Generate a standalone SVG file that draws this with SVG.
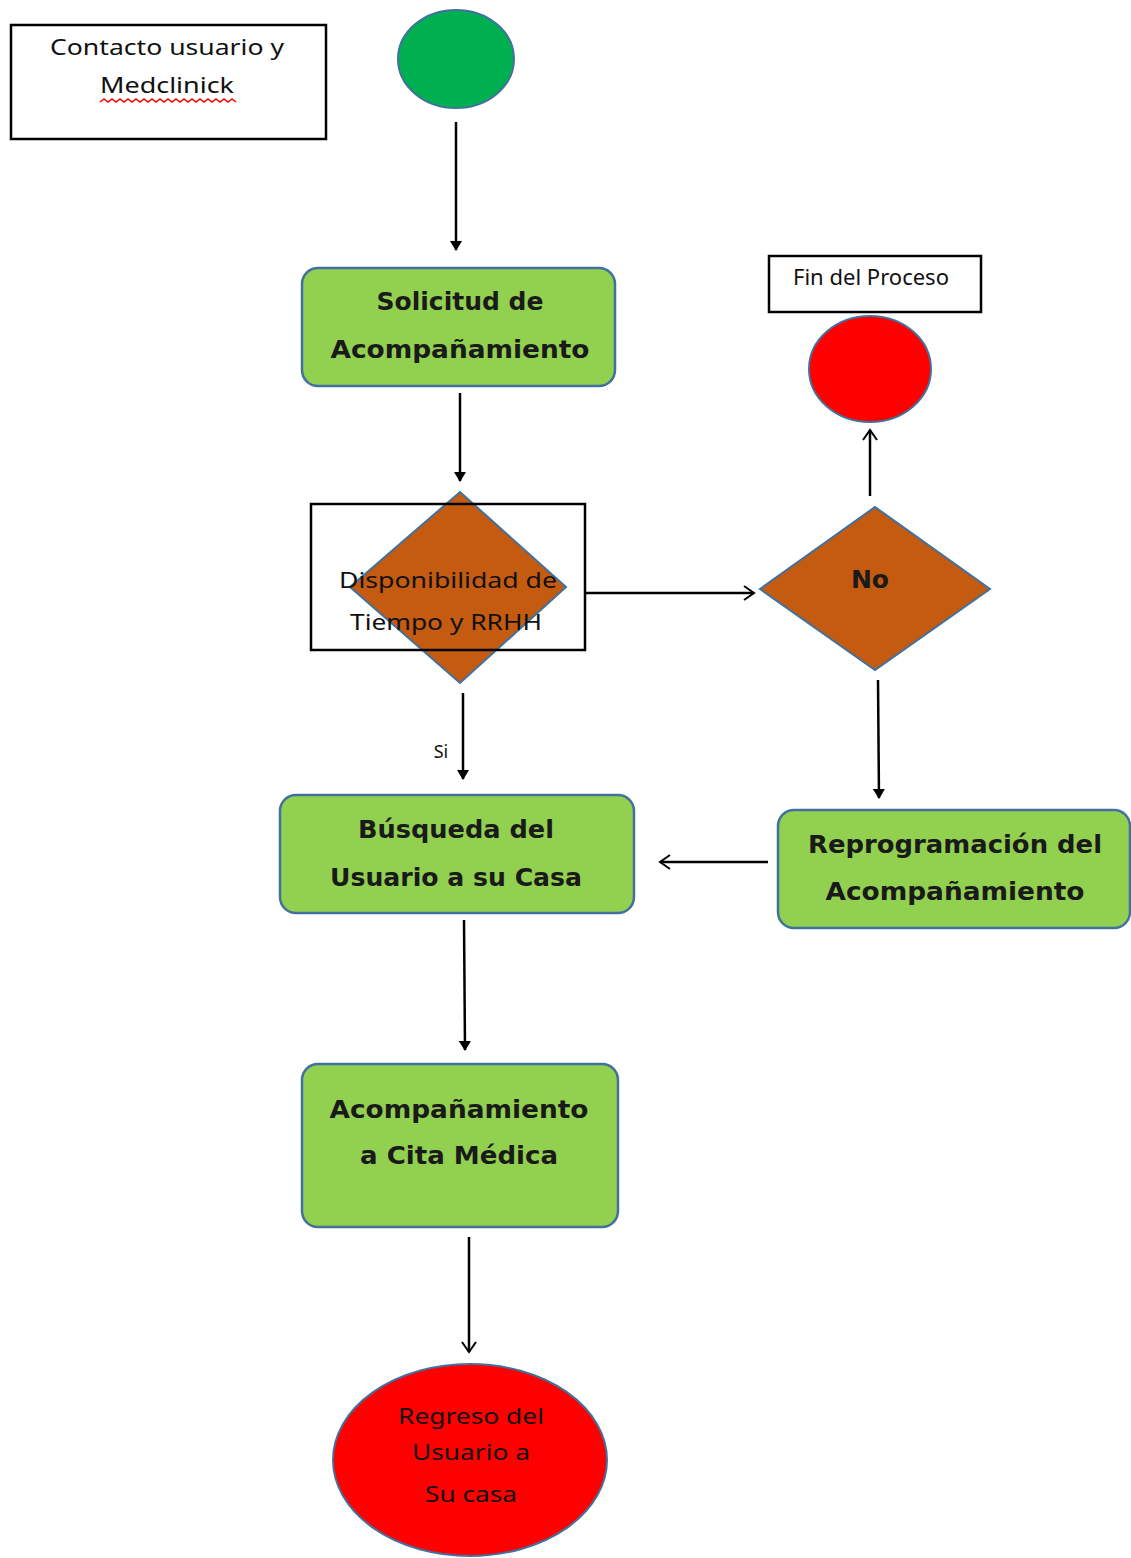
<svg xmlns="http://www.w3.org/2000/svg" width="1131" height="1558" viewBox="0 0 1131 1558">
<style>
  .box { fill: #92D050; stroke: #41719C; stroke-width: 2.5; }
  .dia { fill: #C55A11; stroke: #41719C; stroke-width: 2; }
  .lbl { fill: none; stroke: #000; stroke-width: 2.5; }
  .bt { font-family: "DejaVu Sans", sans-serif; font-weight: bold; font-size: 25px; fill: #1a1a1a; text-anchor: middle; }
  .nt { font-family: "Noto Sans", "DejaVu Sans", sans-serif; font-size: 21px; fill: #111; text-anchor: middle; }
  .con line { stroke: #000; stroke-width: 2.5; }
</style>
<defs>
  <marker id="fill" markerWidth="12" markerHeight="12" refX="9" refY="6" orient="auto" markerUnits="userSpaceOnUse">
    <path d="M0,0 L10,6 L0,12 Z" fill="#000"/>
  </marker>
  <marker id="open" markerWidth="14" markerHeight="16" refX="12" refY="8" orient="auto" markerUnits="userSpaceOnUse">
    <path d="M2,1 L12,8 L2,15" fill="none" stroke="#000" stroke-width="2"/>
  </marker>
</defs>
<rect width="1131" height="1558" fill="#fff"/>

<g id="contacto">
  <rect class="lbl" x="11" y="25" width="315" height="114"/>
  <text class="nt" x="167" y="55" textLength="234" lengthAdjust="spacingAndGlyphs">Contacto usuario y</text>
  <text class="nt" x="167" y="93" textLength="134" lengthAdjust="spacingAndGlyphs">Medclinick</text>
  <path d="M100,102 l4,-3 l4,3 l4,-3 l4,3 l4,-3 l4,3 l4,-3 l4,3 l4,-3 l4,3 l4,-3 l4,3 l4,-3 l4,3 l4,-3 l4,3 l4,-3 l4,3 l4,-3 l4,3 l4,-3 l4,3 l4,-3 l4,3 l4,-3 l4,3 l4,-3 l4,3 l4,-3 l4,3 l4,-3 l4,3 l4,-3 l4,3" fill="none" stroke="#f00" stroke-width="1.5"/>
</g>

<g id="inicio">
  <ellipse cx="456" cy="59" rx="58" ry="49" fill="#00B050" stroke="#41719C" stroke-width="2"/>
</g>

<g id="solicitud">
  <rect class="box" x="302" y="268" width="313" height="118" rx="16"/>
  <text class="bt" x="460" y="310">Solicitud de</text>
  <text class="bt" x="460" y="358" textLength="259" lengthAdjust="spacingAndGlyphs">Acompañamiento</text>
</g>

<g id="disponibilidad">
  <polygon class="dia" points="460,492 566,587 460,683 350,587"/>
  <rect class="lbl" x="311" y="504" width="274" height="146"/>
  <text class="nt" x="448" y="588" textLength="218" lengthAdjust="spacingAndGlyphs">Disponibilidad de</text>
  <text class="nt" x="446" y="630" textLength="192" lengthAdjust="spacingAndGlyphs">Tiempo y RRHH</text>
</g>

<g id="no">
  <polygon class="dia" points="875,507 990,589 875,670 760,589"/>
  <text class="bt" x="870" y="588">No</text>
</g>

<g id="finlabel">
  <rect class="lbl" x="769" y="256" width="212" height="56"/>
  <text class="nt" x="871" y="285" font-size="17" textLength="156" lengthAdjust="spacingAndGlyphs">Fin del Proceso</text>
</g>

<g id="fin">
  <ellipse cx="870" cy="369" rx="61" ry="53" fill="#FF0000" stroke="#41719C" stroke-width="2"/>
</g>

<g id="reprogramacion">
  <rect class="box" x="778" y="810" width="352" height="118" rx="16"/>
  <text class="bt" x="955" y="853" textLength="294" lengthAdjust="spacingAndGlyphs">Reprogramación del</text>
  <text class="bt" x="955" y="900" textLength="259" lengthAdjust="spacingAndGlyphs">Acompañamiento</text>
</g>

<g id="busqueda">
  <rect class="box" x="280" y="795" width="354" height="118" rx="16"/>
  <text class="bt" x="456" y="838" textLength="196" lengthAdjust="spacingAndGlyphs">Búsqueda del</text>
  <text class="bt" x="456" y="886" textLength="252" lengthAdjust="spacingAndGlyphs">Usuario a su Casa</text>
</g>

<g id="acompanamiento">
  <rect class="box" x="302" y="1064" width="316" height="163" rx="16"/>
  <text class="bt" x="459" y="1118" textLength="259" lengthAdjust="spacingAndGlyphs">Acompañamiento</text>
  <text class="bt" x="459" y="1164" textLength="198" lengthAdjust="spacingAndGlyphs">a Cita Médica</text>
</g>

<g id="regreso">
  <ellipse cx="470" cy="1460" rx="137" ry="96" fill="#FF0000" stroke="#41719C" stroke-width="2"/>
  <text class="nt" x="471" y="1424" fill="#300" textLength="146" lengthAdjust="spacingAndGlyphs">Regreso del</text>
  <text class="nt" x="471" y="1460" fill="#300" textLength="118" lengthAdjust="spacingAndGlyphs">Usuario a</text>
  <text class="nt" x="471" y="1502" fill="#300" textLength="92" lengthAdjust="spacingAndGlyphs">Su casa</text>
</g>

<g id="connectors" class="con">
  <line x1="456" y1="122" x2="456" y2="250" marker-end="url(#fill)"/>
  <line x1="460" y1="393" x2="460" y2="481" marker-end="url(#fill)"/>
  <line x1="585" y1="593" x2="754" y2="593" marker-end="url(#open)"/>
  <line x1="870" y1="496" x2="870" y2="430" marker-end="url(#open)"/>
  <line x1="878" y1="680" x2="879" y2="798" marker-end="url(#fill)"/>
  <line x1="463" y1="693" x2="463" y2="779" marker-end="url(#fill)"/>
  <line x1="768" y1="862" x2="660" y2="862" marker-end="url(#open)"/>
  <line x1="464" y1="920" x2="465" y2="1050" marker-end="url(#fill)"/>
  <line x1="469" y1="1237" x2="469" y2="1352" marker-end="url(#open)"/>
  <text x="441" y="758" font-family="Noto Sans, DejaVu Sans, sans-serif" font-size="18" fill="#111" text-anchor="middle" stroke="none">Si</text>
</g>
</svg>
